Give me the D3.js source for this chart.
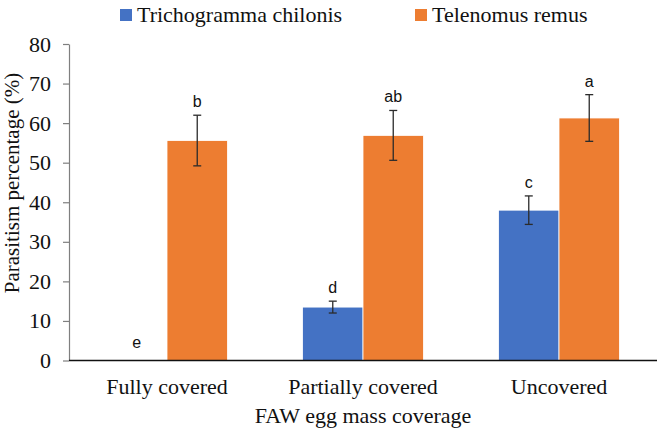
<!DOCTYPE html>
<html>
<head>
<meta charset="utf-8">
<script src="https://cdn.jsdelivr.net/npm/d3@7"></script>
<style>
  html, body { margin: 0; padding: 0; background: #fff; }
  svg { display: block; }
</style>
</head>
<body>
<div id="chart"></div>
<script>
// data
const categories = ["Fully covered", "Partially covered", "Uncovered"];
const seriesNames = ["Trichogramma chilonis", "Telenomus remus"];
const trichoMeans = [0, 13.5, 38.0];
const trichoErrors = [0, 1.5, 3.6];
const trichoLetters = ["e", "d", "c"];
const telenomusMeans = [55.6, 56.9, 61.3];
const telenomusErrors = [6.4, 6.3, 5.9];
const telenomusLetters = ["b", "ab", "a"];
const yTicks = [0, 10, 20, 30, 40, 50, 60, 70, 80];

const colors = ["#4472C4", "#ED7D31"];
const width = 661, height = 431;

const svg = d3.select("#chart").append("svg")
    .attr("width", width)
    .attr("height", height)
    .style("font-family", "'Liberation Serif', 'Times New Roman', serif");

const x = d3.scaleBand().domain(categories).range([69, 657]).paddingInner(0.383).paddingOuter(0.1915);
const sub = d3.scaleBand().domain(seriesNames).range([0, x.bandwidth()]);
const y = d3.scaleLinear().domain([0, 80]).range([360.5, 44]);

// build rows per bar
const rows = [];
categories.forEach((c, i) => {
    rows.push({ cat: c, s: seriesNames[0], v: trichoMeans[i], e: trichoErrors[i], l: trichoLetters[i], k: 0 });
    rows.push({ cat: c, s: seriesNames[1], v: telenomusMeans[i], e: telenomusErrors[i], l: telenomusLetters[i], k: 1 });
});

// y axis
const yAxis = svg.append("g")
    .attr("transform", "translate(69,0)")
    .call(d3.axisLeft(y).tickValues(yTicks).tickSizeInner(6).tickSizeOuter(0).tickPadding(12));
yAxis.select(".domain").attr("stroke", "#7f7f7f").attr("stroke-width", 1.2);
yAxis.selectAll(".tick line").attr("stroke", "#7f7f7f").attr("stroke-width", 1.2);
yAxis.selectAll(".tick text")
    .style("font-family", "'Liberation Serif', serif")
    .style("font-size", "22px")
    .attr("fill", "#111");

// bars
const g = svg.append("g");
g.selectAll("rect.bar")
    .data(rows.filter(d => d.v > 0))
    .join("rect")
    .attr("class", "bar")
    .attr("x", d => x(d.cat) + sub(d.s))
    .attr("y", d => y(d.v))
    .attr("width", sub.bandwidth())
    .attr("height", d => y(0) - y(d.v))
    .attr("fill", d => colors[d.k])
    .attr("stroke", "#fff")
    .attr("stroke-width", 0.8);

// error bars
const eb = g.selectAll("g.err")
    .data(rows.filter(d => d.e > 0))
    .join("g")
    .attr("class", "err")
    .attr("stroke", "#2b2b2b")
    .attr("stroke-width", 1.3);
const cx = d => x(d.cat) + sub(d.s) + sub.bandwidth() / 2;
eb.append("line")
    .attr("x1", cx).attr("x2", cx)
    .attr("y1", d => y(d.v + d.e)).attr("y2", d => y(d.v - d.e));
eb.append("line")
    .attr("x1", d => cx(d) - 4).attr("x2", d => cx(d) + 4)
    .attr("y1", d => y(d.v + d.e)).attr("y2", d => y(d.v + d.e));
eb.append("line")
    .attr("x1", d => cx(d) - 4).attr("x2", d => cx(d) + 4)
    .attr("y1", d => y(d.v - d.e)).attr("y2", d => y(d.v - d.e));

// significance letters
g.selectAll("text.letter")
    .data(rows)
    .join("text")
    .attr("class", "letter")
    .attr("x", cx)
    .attr("y", d => d.v > 0 ? y(d.v + d.e) - 8 : y(0) - 13)
    .attr("text-anchor", "middle")
    .style("font-family", "'Liberation Sans', Arial, sans-serif")
    .style("font-size", "16px")
    .attr("fill", "#111")
    .text(d => d.l);

// x axis
const xAxis = svg.append("g")
    .attr("transform", `translate(0,${y(0)})`)
    .call(d3.axisBottom(x).tickSize(0).tickPadding(18));
xAxis.select(".domain").attr("stroke", "#111").attr("stroke-width", 1.6).attr("d", "M69,0H657");
xAxis.selectAll(".tick text")
    .style("font-family", "'Liberation Serif', serif")
    .style("font-size", "22px")
    .attr("fill", "#111");

// axis titles
svg.append("text")
    .attr("x", 363)
    .attr("y", 423)
    .attr("text-anchor", "middle")
    .style("font-size", "22px")
    .attr("fill", "#111")
    .text("FAW egg mass coverage");

svg.append("text")
    .attr("transform", "translate(19,183) rotate(-90)")
    .attr("text-anchor", "middle")
    .style("font-size", "21px")
    .attr("fill", "#111")
    .text("Parasitism percentage (%)");

// legend
const legendX = [120, 415];
const leg = svg.append("g").selectAll("g")
    .data(seriesNames)
    .join("g")
    .attr("transform", (d, i) => `translate(${legendX[i]},15)`);
leg.append("rect")
    .attr("x", 0).attr("y", -6)
    .attr("width", 12).attr("height", 12)
    .attr("fill", (d, i) => colors[i]);
leg.append("text")
    .attr("x", 17)
    .attr("y", 7)
    .style("font-size", "22px")
    .attr("fill", "#111")
    .text(d => d);
</script>
</body>
</html>
